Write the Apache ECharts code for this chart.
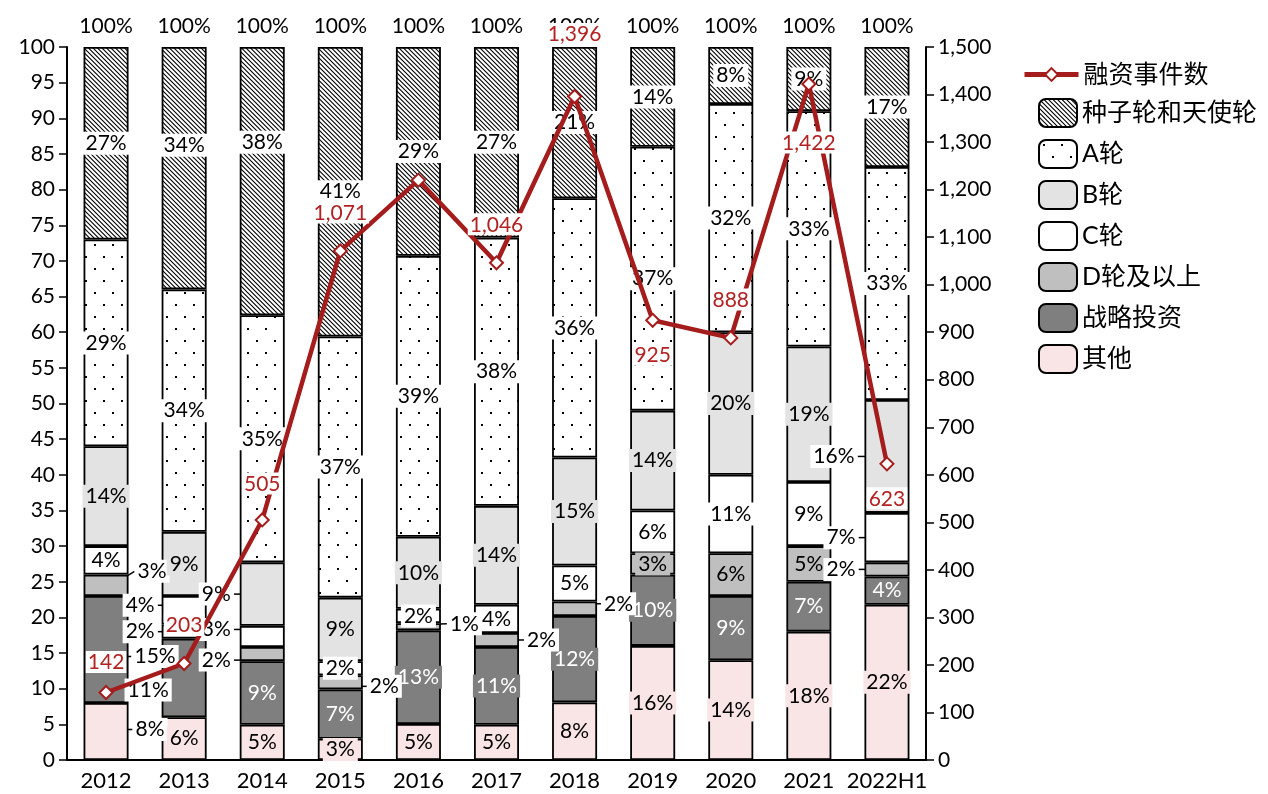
<!DOCTYPE html>
<html>
<head>
<meta charset="utf-8">
<script src="https://cdn.jsdelivr.net/npm/echarts@6/dist/echarts.min.js"></script>
<style>
  html, body { margin: 0; padding: 0; background: #fff; }
  #chart { width: 1268px; height: 794px; }
</style>
</head>
<body>
<div id="chart"></div>
<script>
// 年份
const categories = ['2012', '2013', '2014', '2015', '2016', '2017', '2018', '2019', '2020', '2021', '2022H1']
// 各轮次占比 (%)
const seedRound = [27, 34, 38, 41, 29, 27, 21, 14, 8, 9, 17]
const roundA = [29, 34, 35, 37, 39, 38, 36, 37, 32, 33, 33]
const roundB = [14, 9, 9, 9, 10, 14, 15, 14, 20, 19, 16]
const roundC = [4, 4, 3, 2, 2, 4, 5, 6, 11, 9, 7]
const roundD = [3, 2, 2, 2, 1, 2, 2, 3, 6, 5, 2]
const strategic = [15, 11, 9, 7, 13, 11, 12, 10, 9, 7, 4]
const others = [8, 6, 5, 3, 5, 5, 8, 16, 14, 18, 22]
// 融资事件数
const events = [142, 203, 505, 1071, 1220, 1046, 1396, 925, 888, 1422, 623]
// 坐标轴刻度
const leftTicks = { min: 0, max: 100, interval: 5 }
const rightTicks = { min: 0, max: 1500, interval: 100 }

const RED = '#a51c1c'
const FONT = 'Lato, "Noto Sans CJK SC", sans-serif'
const FS = 21

// 被挪到柱子外面的标签 (dx, dy, 是否画引线)
const labelMoves = {
  '其他': { 0: [44, -2, true] },
  '战略投资': { 0: [49, 7, true], 1: [-36, 12, true] },
  'D轮及以上': { 0: [46, -14, true], 1: [-44, 0, true], 2: [-46, 6, true], 3: [44, 4, true], 4: [46, -3, true], 5: [45, 0, true], 6: [44, -5, true], 10: [-46, 0, true] },
  'C轮': { 1: [-44, -5, true], 2: [-46, -7, true], 10: [-46, 0, true] },
  'B轮': { 2: [-46, 0, true], 10: [-53, 0, true] },
  '种子轮和天使轮': { 1: [0, -23, false], 2: [0, -39, false] },
}
// 折线标签位置
const lineLabelPos = ['top', 'top', 'top', 'top', 'top', 'top', 'top', 'bottom', 'top', 'bottom', 'bottom']
const lineLabelDist = [12, 20, 18, 20, 20, 20, 44, 16, 20, 40, 16]
const lineLabelShow = [true, true, true, true, false, true, true, true, true, true, true]

function makeHatch() {
  const s = 9
  const c = document.createElement('canvas')
  c.width = s
  c.height = s
  const ctx = c.getContext('2d')
  ctx.fillStyle = '#fff'
  ctx.fillRect(0, 0, s, s)
  ctx.strokeStyle = '#000'
  ctx.lineWidth = 1.1
  ctx.beginPath()
  ;[-9, -4.5, 0, 4.5, 9].forEach((o) => {
    ctx.moveTo(o - 1, -1)
    ctx.lineTo(o + s + 1, s + 1)
  })
  ctx.stroke()
  return c
}

function makeDots() {
  const c = document.createElement('canvas')
  c.width = 18
  c.height = 24
  const ctx = c.getContext('2d')
  ctx.fillStyle = '#fff'
  ctx.fillRect(0, 0, 18, 24)
  ctx.fillStyle = '#000'
  ctx.fillRect(4, 4, 2, 2)
  ctx.fillRect(13, 16, 2, 2)
  return c
}

const totals = categories.map((_, i) =>
  [seedRound, roundA, roundB, roundC, roundD, strategic, others].reduce((s, arr) => s + arr[i], 0)
)

function barSeries(name, values, fill, labelColor, labelBg) {
  const moves = labelMoves[name] || {}
  return {
    name: name,
    type: 'bar',
    stack: 'pct',
    yAxisIndex: 0,
    barWidth: 45,
    itemStyle: { color: fill, borderColor: '#000', borderWidth: 1.8 },
    label: {
      show: true,
      position: 'inside',
      fontSize: FS,
      fontFamily: FONT,
      color: labelColor,
      backgroundColor: labelBg,
      padding: [2, 3, 0, 3],
      formatter: (p) => values[p.dataIndex] + '%',
    },
    labelLine: { show: false, lineStyle: { color: '#000', width: 1.5 }, length2: 0 },
    labelLayout: (p) => {
      const m = moves[p.dataIndex]
      return m ? { dx: m[0], dy: m[1] } : {}
    },
    data: values.map((v, i) => {
      const item = { value: (v / totals[i]) * 100 }
      const m = moves[i]
      if (m && m[2]) {
        item.label = { color: '#000', backgroundColor: '#fff' }
        item.labelLine = { show: true }
      }
      return item
    }),
  }
}

const chart = echarts.init(document.getElementById('chart'))

const legendText = { fontSize: 25, color: '#000', fontFamily: FONT }

const option = {
  animation: false,
  textStyle: { fontFamily: FONT },
  grid: { left: 67, right: 342, top: 47, bottom: 34 },
  legend: [
    {
      orient: 'vertical',
      left: 1017,
      top: 57,
      itemWidth: 54,
      itemHeight: 16,
      textStyle: legendText,
      lineStyle: { width: 5 },
      data: ['融资事件数'],
    },
    {
      orient: 'vertical',
      left: 1033,
      top: 93,
      itemWidth: 38,
      itemHeight: 28,
      itemGap: 11,
      textStyle: legendText,
      data: ['种子轮和天使轮', 'A轮', 'B轮', 'C轮', 'D轮及以上', '战略投资', '其他'],
    },
  ],
  xAxis: {
    type: 'category',
    data: categories,
    axisLine: { lineStyle: { color: '#000', width: 2 } },
    axisTick: { show: false },
    axisLabel: { color: '#000', fontSize: 22, interval: 0, margin: 10 },
  },
  yAxis: [
    {
      type: 'value',
      ...leftTicks,
      splitLine: { show: false },
      axisLine: { show: true, lineStyle: { color: '#000', width: 2 } },
      axisTick: { show: true, length: 8, lineStyle: { color: '#000', width: 1.5 } },
      axisLabel: { color: '#000', fontSize: FS, margin: 12 },
    },
    {
      type: 'value',
      ...rightTicks,
      splitLine: { show: false },
      axisLine: { show: true, lineStyle: { color: '#000', width: 2 } },
      axisTick: { show: true, length: 8, lineStyle: { color: '#000', width: 1.5 } },
      axisLabel: {
        color: '#000',
        fontSize: FS,
        margin: 12,
        formatter: (v) => v.toLocaleString('en-US'),
      },
    },
  ],
  series: [
    barSeries('其他', others, '#f9e5e6', '#000', '#f9e5e6'),
    barSeries('战略投资', strategic, '#7f7f7f', '#fff', '#7f7f7f'),
    barSeries('D轮及以上', roundD, '#bfbfbf', '#000', '#bfbfbf'),
    barSeries('C轮', roundC, '#ffffff', '#000', '#fff'),
    barSeries('B轮', roundB, '#e3e3e3', '#000', '#e3e3e3'),
    barSeries('A轮', roundA, { image: makeDots(), repeat: 'repeat' }, '#000', '#fff'),
    barSeries('种子轮和天使轮', seedRound, { image: makeHatch(), repeat: 'repeat' }, '#000', '#fff'),
    {
      name: '合计',
      type: 'bar',
      stack: 'pct',
      barWidth: 45,
      data: categories.map(() => 0),
      itemStyle: { color: 'transparent' },
      label: {
        show: true,
        position: 'top',
        distance: 10,
        fontSize: FS,
        color: '#000',
        formatter: (p) => Math.round(totals[p.dataIndex] / totals[p.dataIndex] * 100) + '%',
      },
    },
    {
      name: '融资事件数',
      type: 'line',
      yAxisIndex: 1,
      z: 5,
      symbol: 'diamond',
      symbolSize: 13,
      lineStyle: { color: RED, width: 4.5 },
      itemStyle: { color: '#fff', borderColor: RED, borderWidth: 2 },
      label: {
        show: true,
        fontSize: FS,
        color: '#b22222',
        backgroundColor: '#fff',
        padding: [1, 2, 0, 2],
        formatter: (p) => events[p.dataIndex].toLocaleString('en-US'),
      },
      data: events.map((v, i) => ({
        value: v,
        label: { show: lineLabelShow[i], position: lineLabelPos[i], distance: lineLabelDist[i] },
      })),
    },
  ],
}

chart.setOption(option)
</script>
</body>
</html>
